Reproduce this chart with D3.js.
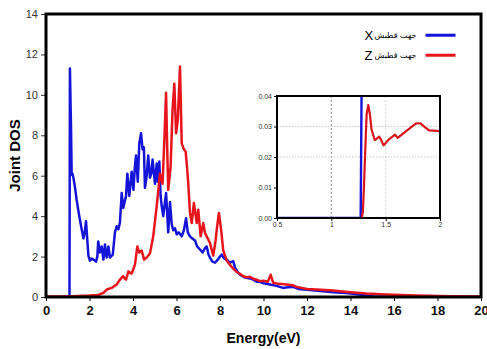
<!DOCTYPE html>
<html>
<head>
<meta charset="utf-8">
<script src="https://cdn.jsdelivr.net/npm/d3@7"></script>
<style>
  body { margin: 0; background: #fff; }
  svg { display: block; font-family: "Liberation Sans", Arial, sans-serif; }
</style>
</head>
<body>
<svg id="chart" width="487" height="349"></svg>
<script>
// tick labels
const xTicks = [0, 2, 4, 6, 8, 10, 12, 14, 16, 18, 20];
const yTicks = [0, 2, 4, 6, 8, 10, 12, 14];
const insetXTicks = [0.5, 1, 1.5, 2];
const insetYTicks = [0, 0.01, 0.02, 0.03, 0.04];

// legend labels
const seriesNames = ['X', 'Z'];
const seriesLabel = 'جهت قطبش';

// Joint DOS, X polarization [energy eV, value]
const dosX = [
  [0, 0], [1.08, 0], [1.10, 11.3], [1.13, 9.5], [1.15, 8.4], [1.18, 6.05], [1.22, 6.1], [1.26, 5.9],
  [1.33, 5.45], [1.41, 4.8], [1.53, 4.0], [1.64, 3.35], [1.72, 2.9], [1.78, 3.2], [1.84, 3.75],
  [1.9, 2.8], [1.95, 2.05], [2.02, 1.8], [2.1, 1.9], [2.18, 1.85], [2.3, 1.75], [2.36, 2.0],
  [2.40, 2.75], [2.48, 2.2], [2.56, 2.5], [2.64, 1.85], [2.71, 2.6], [2.79, 1.95], [2.87, 2.5],
  [2.94, 1.95], [3.07, 2.1], [3.17, 3.2], [3.25, 3.5], [3.33, 3.35], [3.40, 3.7], [3.48, 5.15],
  [3.55, 4.4], [3.68, 5.0], [3.74, 6.1], [3.83, 5.0], [3.94, 6.2], [4.02, 5.3], [4.09, 6.5],
  [4.14, 7.0], [4.22, 5.7], [4.29, 7.6], [4.37, 8.1], [4.44, 7.3], [4.50, 7.4], [4.55, 5.4],
  [4.63, 6.0], [4.70, 7.0], [4.78, 5.9], [4.84, 6.1], [4.90, 6.8], [5.01, 5.6], [5.09, 6.6],
  [5.14, 5.7], [5.21, 6.7], [5.27, 5.0], [5.32, 4.5], [5.39, 4.0], [5.46, 4.6], [5.52, 5.15],
  [5.57, 4.2], [5.62, 3.2], [5.70, 4.7], [5.78, 3.6], [5.85, 3.3], [5.93, 3.4], [6.01, 3.1],
  [6.1, 3.2], [6.24, 3.0], [6.34, 3.3], [6.44, 3.9], [6.52, 3.2], [6.62, 3.0], [6.72, 2.9],
  [6.85, 2.8], [6.95, 2.5], [7.08, 2.35], [7.2, 2.2], [7.3, 2.4], [7.39, 2.5], [7.47, 2.1],
  [7.54, 1.95], [7.65, 1.75], [7.77, 1.7], [7.9, 1.85], [8.0, 2.0], [8.08, 2.1], [8.2, 1.9],
  [8.31, 1.85], [8.45, 1.7], [8.61, 1.77], [8.69, 1.45], [8.8, 1.25], [8.92, 1.1], [9.07, 1.0],
  [9.2, 0.95], [9.38, 0.92], [9.53, 0.86], [9.7, 0.75], [9.84, 0.75], [10.0, 0.68], [10.3, 0.62],
  [10.6, 0.55], [10.9, 0.45], [11.1, 0.48], [11.36, 0.5], [11.6, 0.4], [12.14, 0.34], [12.6, 0.3],
  [13.2, 0.24], [13.8, 0.2], [14.4, 0.12], [15.0, 0.04], [15.5, 0.02], [16, 0.01], [20, 0]
];

// Joint DOS, Z polarization [energy eV, value]
const dosZ = [
  [0, 0.02], [1, 0.02], [2.0, 0.07], [2.4, 0.1], [2.64, 0.2], [2.79, 0.37], [3.02, 0.45],
  [3.25, 0.62], [3.40, 0.86], [3.55, 1.03], [3.63, 0.9], [3.68, 0.86], [3.79, 1.27], [3.86, 1.2],
  [3.94, 1.16], [4.09, 1.6], [4.2, 2.5], [4.29, 2.2], [4.40, 2.3], [4.51, 1.85], [4.63, 1.95],
  [4.78, 2.15], [4.93, 3.0], [5.09, 4.5], [5.24, 6.1], [5.30, 5.9], [5.36, 5.6], [5.45, 8.0],
  [5.52, 10.1], [5.57, 7.5], [5.62, 5.3], [5.73, 6.46], [5.82, 9.3], [5.90, 10.55], [5.98, 8.1],
  [6.06, 8.77], [6.16, 11.4], [6.24, 7.6], [6.34, 7.3], [6.42, 7.2], [6.47, 6.6], [6.54, 5.64],
  [6.62, 4.16], [6.70, 3.66], [6.80, 4.65], [6.93, 3.66], [7.0, 4.32], [7.11, 3.0], [7.23, 3.66],
  [7.31, 3.17], [7.39, 3.0], [7.54, 2.67], [7.69, 2.05], [7.80, 2.8], [7.85, 3.33], [7.95, 4.16],
  [8.05, 3.33], [8.15, 2.3], [8.31, 1.8], [8.45, 1.6], [8.61, 1.4], [8.75, 1.25], [8.92, 1.15],
  [9.07, 1.03], [9.23, 0.98], [9.38, 1.0], [9.53, 0.9], [9.7, 0.85], [9.84, 0.78], [10.0, 0.8],
  [10.2, 0.75], [10.33, 1.1], [10.45, 0.7], [10.7, 0.65], [11.07, 0.62], [11.36, 0.58],
  [11.53, 0.5], [12.0, 0.4], [12.45, 0.37], [13.2, 0.32], [14.0, 0.24], [14.74, 0.17],
  [15.66, 0.12], [17.04, 0.07], [18.6, 0.04], [20, 0.03]
];

// inset, zoom on the absorption edge
const insetX = [[0.5, 0], [1.27, 0], [1.28, 0.05]];
const insetZ = [
  [0.5, 0], [1.28, 0], [1.29, 0.002], [1.30, 0.01], [1.315, 0.025], [1.325, 0.034], [1.34, 0.037],
  [1.355, 0.034], [1.37, 0.029], [1.40, 0.0255], [1.44, 0.0267], [1.46, 0.0255], [1.48, 0.0238],
  [1.53, 0.0258], [1.586, 0.0273], [1.61, 0.0263], [1.7, 0.0288], [1.78, 0.031], [1.82, 0.031],
  [1.86, 0.0298], [1.9, 0.0287], [2.0, 0.0285]
];

const colors = { X: '#1414d8', Z: '#e8141c' };

const svg = d3.select('#chart');
const margin = { top: 14, right: 6, bottom: 52, left: 46 };
const width = 487 - margin.left - margin.right;
const height = 349 - margin.top - margin.bottom;
const g = svg.append('g').attr('transform', `translate(${margin.left},${margin.top})`);

const x = d3.scaleLinear().domain([0, 20]).range([0, width]);
const y = d3.scaleLinear().domain([0, 14]).range([height, 0]);

svg.append('clipPath').attr('id', 'mainClip')
  .append('rect').attr('width', width).attr('height', height);

const line = d3.line().x(d => x(d[0])).y(d => y(d[1]));

const plot = g.append('g').attr('clip-path', 'url(#mainClip)');
plot.append('path').datum(dosX)
  .attr('d', line).attr('fill', 'none').attr('stroke', colors.X)
  .attr('stroke-width', 2.5).attr('stroke-linejoin', 'round');
plot.append('path').datum(dosZ)
  .attr('d', line).attr('fill', 'none').attr('stroke', colors.Z)
  .attr('stroke-width', 2.5).attr('stroke-linejoin', 'round');

// axes
const yAxis = g.append('g')
  .call(d3.axisLeft(y).tickValues(yTicks).tickSize(5).tickPadding(3));
yAxis.select('.domain').remove();
yAxis.selectAll('text').attr('font-size', 11).attr('fill', '#333');
yAxis.selectAll('line').attr('stroke', '#333');

const xAxis = g.append('g').attr('transform', `translate(0,${height})`)
  .call(d3.axisBottom(x).tickValues(xTicks).tickSize(4).tickPadding(5));
xAxis.select('.domain').remove();
xAxis.selectAll('text').attr('font-size', 13).attr('font-weight', 'bold').attr('fill', '#111');

// frame
g.append('rect').attr('width', width).attr('height', height)
  .attr('fill', 'none').attr('stroke', '#000').attr('stroke-width', 3);

// axis titles
svg.append('text')
  .attr('transform', `translate(20,${margin.top + height / 2}) rotate(-90)`)
  .attr('text-anchor', 'middle').attr('font-size', 15).attr('font-weight', 'bold')
  .text('Joint DOS');
svg.append('text')
  .attr('x', margin.left + width / 2).attr('y', 343)
  .attr('text-anchor', 'middle').attr('font-size', 14).attr('font-weight', 'bold')
  .text('Energy(eV)');

// legend
const legend = g.append('g').attr('transform', `translate(${x(17.45)},${y(12.95)})`);
seriesNames.forEach((name, i) => {
  const row = legend.append('g').attr('transform', `translate(0,${i * 20})`);
  row.append('line').attr('x1', 0).attr('x2', 30)
    .attr('stroke', colors[name]).attr('stroke-width', 3);
  row.append('text').attr('x', -9).attr('y', 3).attr('text-anchor', 'end')
    .attr('font-size', 8).attr('font-family', 'DejaVu Sans, sans-serif')
    .text(seriesLabel);
  row.append('text').attr('x', -61).attr('y', 5).attr('text-anchor', 'start')
    .attr('font-size', 13).text(name);
});

// inset
const inset = { left: 277, top: 96, width: 163, height: 122 };
const ig = svg.append('g').attr('transform', `translate(${inset.left},${inset.top})`);
const ix = d3.scaleLinear().domain([0.5, 2]).range([0, inset.width]);
const iy = d3.scaleLinear().domain([0, 0.04]).range([inset.height, 0]);

ig.append('rect').attr('width', inset.width).attr('height', inset.height).attr('fill', '#fff');

// grid
ig.selectAll('.vgrid').data([1, 1.5]).join('line')
  .attr('x1', d => ix(d)).attr('x2', d => ix(d)).attr('y1', 0).attr('y2', inset.height)
  .attr('stroke', d => d === 1 ? '#777' : '#ccc').attr('stroke-width', 0.8)
  .attr('stroke-dasharray', '2,2');
ig.selectAll('.hgrid').data([0.02, 0.03]).join('line')
  .attr('x1', 0).attr('x2', inset.width).attr('y1', d => iy(d)).attr('y2', d => iy(d))
  .attr('stroke', '#bbb').attr('stroke-width', 0.8).attr('stroke-dasharray', '1.5,1.5');

svg.append('clipPath').attr('id', 'insetClip')
  .append('rect').attr('width', inset.width).attr('height', inset.height);
const iline = d3.line().x(d => ix(d[0])).y(d => iy(d[1]));
const ip = ig.append('g').attr('clip-path', 'url(#insetClip)');
ip.append('path').datum(insetX).attr('d', iline).attr('fill', 'none')
  .attr('stroke', colors.X).attr('stroke-width', 2.4);
ip.append('path').datum(insetZ).attr('d', iline).attr('fill', 'none')
  .attr('stroke', '#d8141c').attr('stroke-width', 2.2)
  .attr('stroke-linejoin', 'round');

const iyAxis = ig.append('g')
  .call(d3.axisLeft(iy).tickValues(insetYTicks).tickFormat(d3.format('.2f')).tickSize(3).tickPadding(2));
iyAxis.select('.domain').remove();
iyAxis.selectAll('text').attr('font-size', 7).attr('fill', '#333');

const ixAxis = ig.append('g').attr('transform', `translate(0,${inset.height})`)
  .call(d3.axisBottom(ix).tickValues(insetXTicks).tickFormat(d3.format('')).tickSize(3).tickPadding(1));
ixAxis.select('.domain').remove();
ixAxis.selectAll('text').attr('font-size', 7).attr('fill', '#333');

ig.append('rect').attr('width', inset.width).attr('height', inset.height)
  .attr('fill', 'none').attr('stroke', '#000').attr('stroke-width', 2);
</script>
</body>
</html>
